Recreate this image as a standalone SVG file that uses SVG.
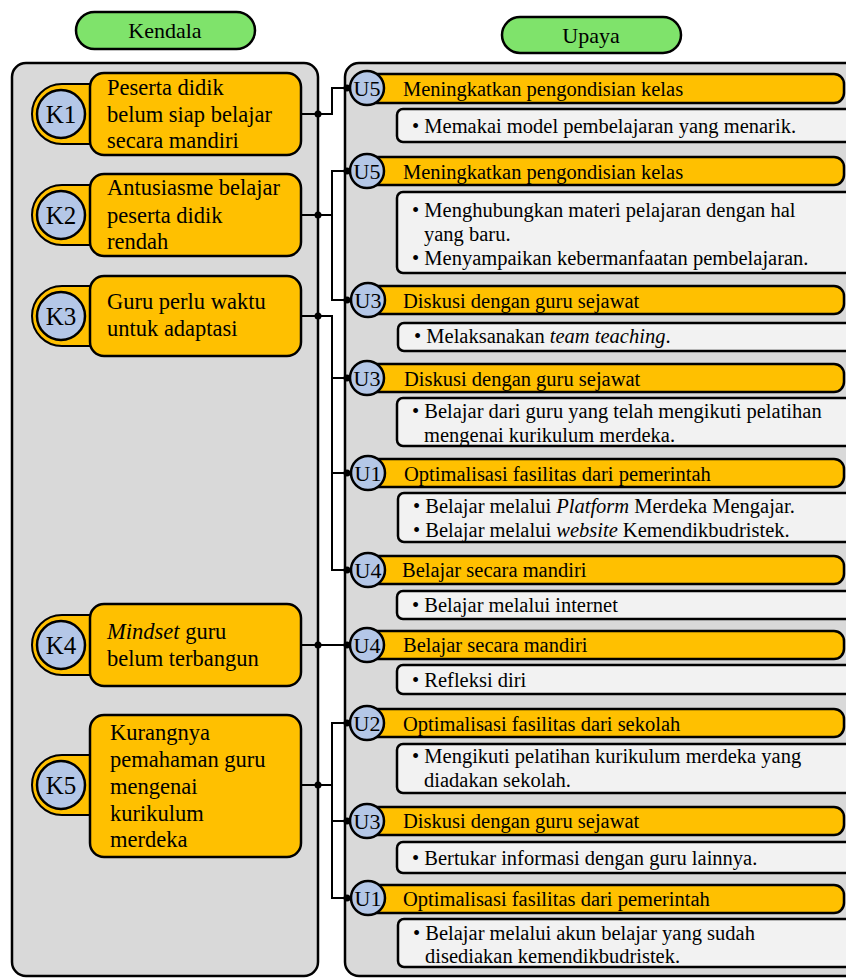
<svg xmlns="http://www.w3.org/2000/svg" width="846" height="978" viewBox="0 0 846 978">
<style>
text{font-family:"Liberation Serif","DejaVu Serif",serif;fill:#000}
.panel{fill:#d9d9d9;stroke:#000;stroke-width:2.5}
.pill{fill:#7fe36b;stroke:#000;stroke-width:2.5}
.ttl{font-size:22px;text-anchor:middle}
.kbox{fill:#ffc000;stroke:#000;stroke-width:2.5}
.tab{fill:#ffc000;stroke:#000;stroke-width:2}
.kc{fill:#b4c7e7;stroke:#000;stroke-width:2.5}
.kl{font-size:25px;text-anchor:middle}
.kt{font-size:22.5px}
.hb{fill:#ffc000;stroke:#000;stroke-width:2.5}
.uc{fill:#b4c7e7;stroke:#000;stroke-width:2.5}
.ul{font-size:22px;text-anchor:middle}
.ht{font-size:20.5px}
.cb{fill:#f2f2f2;stroke:#000;stroke-width:2.5}
.ct{font-size:20.5px}
.con{fill:none;stroke:#000;stroke-width:2}
.dot{fill:#000}
</style>

<g id="title-kendala"><rect class="pill" x="76" y="12" width="179" height="37" rx="18.5"/><text class="ttl" x="165" y="38">Kendala</text></g>
<g id="title-upaya"><rect class="pill" x="502" y="17" width="179" height="36" rx="18"/><text class="ttl" x="591" y="43">Upaya</text></g>

<g id="panel-kendala"><rect class="panel" x="12" y="63" width="306" height="913" rx="14"/></g>
<g id="panel-upaya"><rect class="panel" x="345" y="63" width="530" height="913" rx="14"/></g>

<g id="connectors">
<path class="con" d="M301,114 H332 V88 H347"/>
<path class="con" d="M301,215 H332 M347,171 H332 V300 H347"/>
<path class="con" d="M301,316 H332 V570 H347 M332,378 H347 M332,473 H347"/>
<path class="con" d="M301,645 H347"/>
<path class="con" d="M301,785 H332 M347,723 H332 V898 H347 M332,821 H347"/>
<g class="dot">
<circle cx="318" cy="114" r="3.5"/><circle cx="347" cy="88" r="3.5"/>
<circle cx="318" cy="215" r="3.5"/><circle cx="347" cy="171" r="3.5"/><circle cx="347" cy="300" r="3.5"/>
<circle cx="318" cy="316" r="3.5"/><circle cx="347" cy="378" r="3.5"/><circle cx="347" cy="473" r="3.5"/><circle cx="347" cy="570" r="3.5"/>
<circle cx="318" cy="645" r="3.5"/><circle cx="347" cy="645" r="3.5"/>
<circle cx="318" cy="785" r="3.5"/><circle cx="347" cy="723" r="3.5"/><circle cx="347" cy="821" r="3.5"/><circle cx="347" cy="898" r="3.5"/>
</g>
</g>

<g id="K1">
<path class="tab" d="M95,84 H62 A30,30 0 0 0 62,144 H95 Z"/>
<circle class="kc" cx="61" cy="114" r="24"/><text class="kl" x="61" y="123">K1</text>
<rect class="kbox" x="90" y="73" width="211" height="82" rx="14"/>
<text class="kt" x="107" y="95">Peserta didik</text>
<text class="kt" x="107" y="122">belum siap belajar</text>
<text class="kt" x="107" y="148">secara mandiri</text>
</g>
<g id="K2">
<path class="tab" d="M95,185 H62 A30,30 0 0 0 62,245 H95 Z"/>
<circle class="kc" cx="61" cy="215" r="24"/><text class="kl" x="61" y="224">K2</text>
<rect class="kbox" x="90" y="174" width="211" height="82" rx="14"/>
<text class="kt" x="107" y="195">Antusiasme belajar</text>
<text class="kt" x="107" y="223">peserta didik</text>
<text class="kt" x="107" y="249">rendah</text>
</g>
<g id="K3">
<path class="tab" d="M95,286 H62 A30,30 0 0 0 62,346 H95 Z"/>
<circle class="kc" cx="61" cy="316" r="24"/><text class="kl" x="61" y="325">K3</text>
<rect class="kbox" x="90" y="276" width="211" height="80" rx="14"/>
<text class="kt" x="107" y="309">Guru perlu waktu</text>
<text class="kt" x="107" y="336">untuk adaptasi</text>
</g>
<g id="K4">
<path class="tab" d="M95,615 H62 A30,30 0 0 0 62,675 H95 Z"/>
<circle class="kc" cx="61" cy="645" r="24"/><text class="kl" x="61" y="654">K4</text>
<rect class="kbox" x="90" y="604" width="211" height="82" rx="14"/>
<text class="kt" x="107" y="639"><tspan font-style="italic">Mindset</tspan> guru</text>
<text class="kt" x="107" y="666">belum terbangun</text>
</g>
<g id="K5">
<path class="tab" d="M95,755 H62 A30,30 0 0 0 62,815 H95 Z"/>
<circle class="kc" cx="61" cy="785" r="24"/><text class="kl" x="61" y="794">K5</text>
<rect class="kbox" x="90" y="715" width="211" height="142" rx="14"/>
<text class="kt" x="110" y="740">Kurangnya</text>
<text class="kt" x="110" y="767">pemahaman guru</text>
<text class="kt" x="110" y="794">mengenai</text>
<text class="kt" x="110" y="821">kurikulum</text>
<text class="kt" x="110" y="847">merdeka</text>
</g>

<g id="U-row1">
<rect class="hb" x="362" y="74" width="482" height="29" rx="10"/>
<circle class="uc" cx="367" cy="88" r="17"/><text class="ul" x="367" y="96">U5</text>
<text class="ht" x="403" y="96">Meningkatkan pengondisian kelas</text>
<rect class="cb" x="397" y="109" width="470" height="33" rx="6"/>
<text class="ct" x="412" y="133">• Memakai model pembelajaran yang menarik.</text>
</g>
<g id="U-row2">
<rect class="hb" x="362" y="157" width="482" height="28" rx="10"/>
<circle class="uc" cx="367" cy="171" r="17"/><text class="ul" x="367" y="179">U5</text>
<text class="ht" x="403" y="179">Meningkatkan pengondisian kelas</text>
<rect class="cb" x="397" y="192" width="470" height="81" rx="6"/>
<text class="ct" x="412" y="217">• Menghubungkan materi pelajaran dengan hal</text>
<text class="ct" x="424" y="241">yang baru.</text>
<text class="ct" x="412" y="265">• Menyampaikan kebermanfaatan pembelajaran.</text>
</g>
<g id="U-row3">
<rect class="hb" x="362" y="286" width="482" height="28" rx="10"/>
<circle class="uc" cx="368" cy="300" r="17"/><text class="ul" x="368" y="308">U3</text>
<text class="ht" x="403" y="308">Diskusi dengan guru sejawat</text>
<rect class="cb" x="398" y="323" width="470" height="28" rx="6"/>
<text class="ct" x="414" y="343">• Melaksanakan <tspan font-style="italic">team teaching</tspan>.</text>
</g>
<g id="U-row4">
<rect class="hb" x="362" y="364" width="482" height="28" rx="10"/>
<circle class="uc" cx="367" cy="378" r="17"/><text class="ul" x="367" y="386">U3</text>
<text class="ht" x="404" y="386">Diskusi dengan guru sejawat</text>
<rect class="cb" x="397" y="398" width="470" height="48" rx="6"/>
<text class="ct" x="412" y="418">• Belajar dari guru yang telah mengikuti pelatihan</text>
<text class="ct" x="424" y="442">mengenai kurikulum merdeka.</text>
</g>
<g id="U-row5">
<rect class="hb" x="362" y="459" width="482" height="28" rx="10"/>
<circle class="uc" cx="368" cy="473" r="17"/><text class="ul" x="368" y="481">U1</text>
<text class="ht" x="404" y="481">Optimalisasi fasilitas dari pemerintah</text>
<rect class="cb" x="398" y="493" width="470" height="49" rx="6"/>
<text class="ct" x="413" y="513">• Belajar melalui <tspan font-style="italic">Platform</tspan> Merdeka Mengajar.</text>
<text class="ct" x="413" y="537">• Belajar melalui <tspan font-style="italic">website</tspan> Kemendikbudristek.</text>
</g>
<g id="U-row6">
<rect class="hb" x="362" y="556" width="482" height="28" rx="10"/>
<circle class="uc" cx="368" cy="570" r="17"/><text class="ul" x="368" y="578">U4</text>
<text class="ht" x="402" y="577">Belajar secara mandiri</text>
<rect class="cb" x="397" y="591" width="470" height="28" rx="6"/>
<text class="ct" x="412" y="612">• Belajar melalui internet</text>
</g>
<g id="U-row7">
<rect class="hb" x="362" y="631" width="482" height="28" rx="10"/>
<circle class="uc" cx="367" cy="645" r="17"/><text class="ul" x="367" y="653">U4</text>
<text class="ht" x="403" y="652">Belajar secara mandiri</text>
<rect class="cb" x="397" y="665" width="470" height="29" rx="6"/>
<text class="ct" x="412" y="687">• Refleksi diri</text>
</g>
<g id="U-row8">
<rect class="hb" x="362" y="709" width="482" height="28" rx="10"/>
<circle class="uc" cx="367" cy="723" r="17"/><text class="ul" x="367" y="731">U2</text>
<text class="ht" x="403" y="731">Optimalisasi fasilitas dari sekolah</text>
<rect class="cb" x="397" y="744" width="470" height="49" rx="6"/>
<text class="ct" x="412" y="763">• Mengikuti pelatihan kurikulum merdeka yang</text>
<text class="ct" x="424" y="787">diadakan sekolah.</text>
</g>
<g id="U-row9">
<rect class="hb" x="362" y="807" width="482" height="28" rx="10"/>
<circle class="uc" cx="367" cy="821" r="17"/><text class="ul" x="367" y="829">U3</text>
<text class="ht" x="403" y="828">Diskusi dengan guru sejawat</text>
<rect class="cb" x="397" y="842" width="470" height="31" rx="6"/>
<text class="ct" x="412" y="865">• Bertukar informasi dengan guru lainnya.</text>
</g>
<g id="U-row10">
<rect class="hb" x="362" y="885" width="482" height="28" rx="10"/>
<circle class="uc" cx="368" cy="898" r="17"/><text class="ul" x="368" y="906">U1</text>
<text class="ht" x="403" y="906">Optimalisasi fasilitas dari pemerintah</text>
<rect class="cb" x="398" y="919" width="470" height="48" rx="6"/>
<text class="ct" x="413" y="940">• Belajar melalui akun belajar yang sudah</text>
<text class="ct" x="425" y="963">disediakan kemendikbudristek.</text>
</g>
</svg>
